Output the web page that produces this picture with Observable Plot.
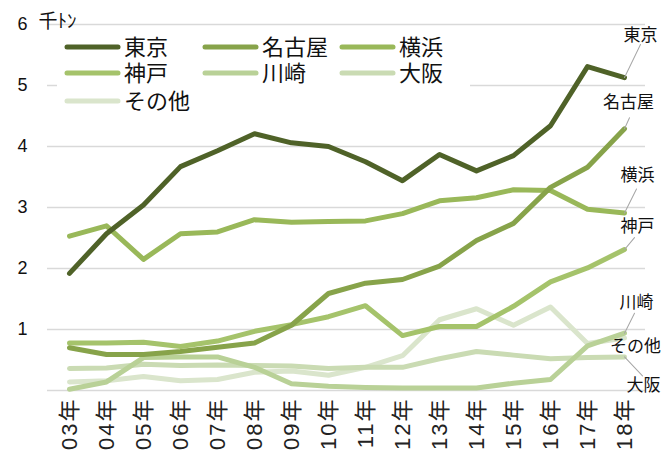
<!DOCTYPE html>
<html><head><meta charset="utf-8">
<script src="https://cdn.jsdelivr.net/npm/d3@7"></script>
<script src="https://cdn.jsdelivr.net/npm/@observablehq/plot@0.6"></script>
<style>
body{margin:0;background:#fff;}
#wrap{position:relative;width:664px;height:450px;overflow:hidden;}
#legend{position:absolute;left:57px;top:31px;}
</style></head>
<body><div id="wrap"><div id="chart"></div><div id="legend"></div></div>
<script>
const years = [2003,2004,2005,2006,2007,2008,2009,2010,2011,2012,2013,2014,2015,2016,2017,2018];
const yearLabels = years.map(y => y + "年");
const series = ["東京","名古屋","横浜","神戸","川崎","大阪","その他"];
const tokyo   = [1.92,2.57,3.04,3.67,3.93,4.21,4.06,4.00,3.75,3.44,3.87,3.60,3.85,4.34,5.31,5.13];
const nagoya  = [0.70,0.59,0.59,0.64,0.71,0.78,1.07,1.59,1.76,1.82,2.04,2.46,2.74,3.33,3.66,4.29];
const yokohama= [2.53,2.70,2.15,2.57,2.60,2.80,2.76,2.77,2.78,2.90,3.11,3.16,3.29,3.28,2.97,2.91];
const kobe    = [0.78,0.78,0.79,0.72,0.81,0.97,1.08,1.21,1.39,0.90,1.05,1.05,1.38,1.78,2.01,2.31];
const kawasaki= [0.02,0.14,0.54,0.55,0.55,0.38,0.11,0.07,0.05,0.04,0.04,0.04,0.12,0.18,0.73,0.94];
const osaka   = [0.36,0.37,0.43,0.41,0.42,0.41,0.40,0.36,0.38,0.38,0.52,0.64,0.58,0.52,0.54,0.55];
const others  = [0.14,0.16,0.23,0.16,0.18,0.30,0.32,0.25,0.38,0.57,1.16,1.34,1.07,1.37,0.77,0.86];
const yTicks = [1,2,3,4,5,6];
const unitLabel = "千ﾄﾝ";

const values = [tokyo,nagoya,yokohama,kobe,kawasaki,osaka,others];
const colors = ["#4f6228","#87a34a","#99b859","#a5c36b","#b9d197","#cadbb3","#dae5cc"];

// layout for end labels: [label dx, label dy, leader dx, leader dy] in px from the end point
const labelLayout = {
  "東京":[16,-42,16,-33], "名古屋":[4,-26,5,-11], "横浜":[13,-37,12,-24],
  "神戸":[13,-23,10,-12], "川崎":[12,-31,10,-20], "その他":[11,9,0,0], "大阪":[19,29,18,19]
};

const rows = [];
series.forEach((s,i) => values[i].forEach((v,j) => rows.push({series:s, year:yearLabels[j], value:v})));
const drawRows = rows.slice().reverse();

const font = '"Liberation Sans","Noto Sans CJK JP",sans-serif';
const jp = '"Noto Sans CJK JP",sans-serif';
const leaderShape = {draw(ctx, l){ ctx.moveTo(0,0); ctx.lineTo(0,-l); }};

const endMarks = [];
series.forEach((s,i) => {
  const [tx,ty,lx,ly] = labelLayout[s];
  const last = [{series:s, year:yearLabels[yearLabels.length-1], value:values[i][values[i].length-1]}];
  if (lx || ly) {
    endMarks.push(Plot.vector(last, {x:"year", y:"value", anchor:"start", length: Math.hypot(lx,ly),
      rotate: Math.atan2(lx,-ly)*180/Math.PI, stroke:"#a6a6a6", strokeWidth:1, shape: leaderShape}));
  }
  endMarks.push(Plot.text(last, {x:"year", y:"value", text:"series", dx:tx, dy:ty, fontSize:17,
    fill:"#111", fontFamily:jp}));
});

const chart = Plot.plot({
  width:664, height:450,
  marginLeft:47, marginRight:19, marginTop:24, marginBottom:60,
  style:{fontFamily:font, background:"white", color:"#111"},
  x:{type:"point", domain:yearLabels, padding:0.48, axis:null},
  y:{domain:[0,6], axis:null},
  color:{domain:series, range:colors},
  marks:[
    Plot.ruleY([0,...yTicks], {stroke:"#d9d9d9", strokeWidth:1.5}),
    Plot.text(yTicks, {y:d=>d, text:d=>String(d), frameAnchor:"left", textAnchor:"end", dx:-20, fontSize:18, fill:"#111"}),
    Plot.text([unitLabel], {frameAnchor:"top-left", textAnchor:"start", lineAnchor:"bottom", dx:-9, dy:3, fontSize:19, fill:"#111", fontFamily:jp}),
    Plot.text(yearLabels, {x:d=>d, frameAnchor:"bottom", rotate:-90, textAnchor:"end", lineAnchor:"middle", dy:7, fontSize:22, fill:"#222"}),
    Plot.line(drawRows, {x:"year", y:"value", z:"series", stroke:"series", strokeWidth:5, strokeLinejoin:"round", strokeLinecap:"round"}),
    ...endMarks
  ]
});
// widen the year labels a little to match the reference's wide digits
d3.select(chart).selectAll("text").filter(function(){ return /年$/.test(this.textContent); })
  .attr("letter-spacing", 2);
document.getElementById("chart").append(chart);

// legend (3 columns, inside plot area with white background)
const lg = d3.select("#legend").append("svg").attr("width",413).attr("height",82)
  .style("font-family",jp);
lg.append("rect").attr("width",413).attr("height",82).attr("fill","white");
const colX = [8,146,283], rowY = [16,42,70];
series.forEach((s,i) => {
  const c = i%3, r = Math.floor(i/3);
  const g = lg.append("g").attr("transform",`translate(${colX[c]},${rowY[r]})`);
  g.append("line").attr("x1",2).attr("x2",53).attr("stroke",colors[i]).attr("stroke-width",5).attr("stroke-linecap","round");
  g.append("text").attr("x",59).attr("dy","0.36em").attr("font-size",22).attr("fill","#111").text(s);
});
</script>
</body></html>
